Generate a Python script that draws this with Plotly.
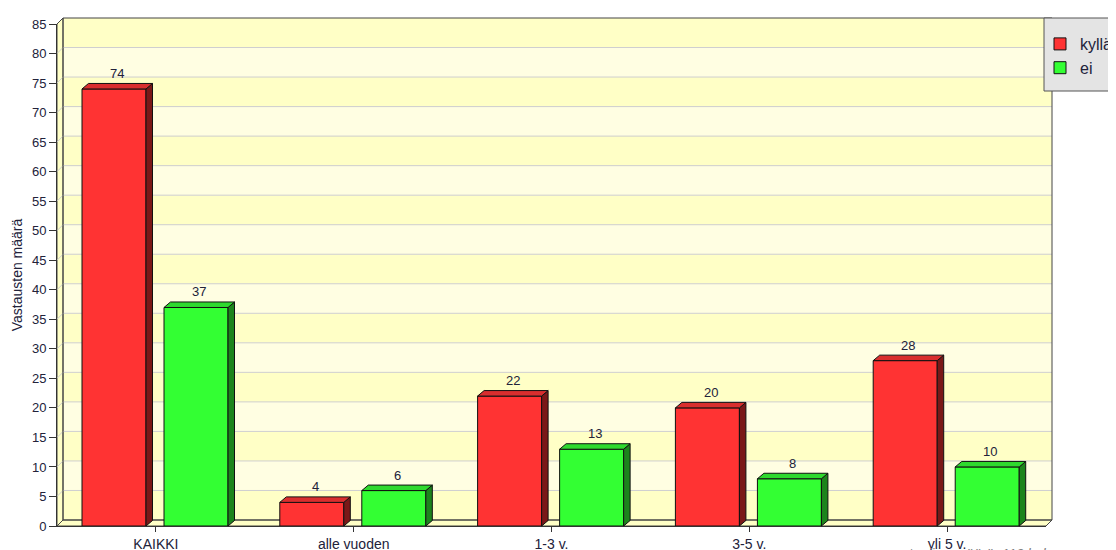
import plotly.graph_objects as go

# ---------------- data ----------------
categories = ["KAIKKI", "alle vuoden", "1-3 v.", "3-5 v.", "yli 5 v."]
kylla = [74, 4, 22, 20, 28]
ei = [37, 6, 13, 8, 10]
series_names = ["kyllä", "ei"]
y_ticks = list(range(0, 90, 5))
y_title = "Vastausten määrä"
footnote = "vastaajien määrä: 110 kpl"

# ---------------- layout geometry (page pixels) ----------------
PAGE_W, PAGE_H = 1116, 550
OFF = 8                      # default body margin of the html page
W, H = PAGE_W - OFF, PAGE_H - OFF
PL, PR, PT, PB = 57, 1046, 24, 526
ML, MR, MT, MB = PL - OFF, PAGE_W - PR, PT - OFF, PAGE_H - PB
XR = [-0.5, len(categories) - 0.5]
YR = [0, 85]
DX, DY = 6, 6          # wall depth (px)
BDX, BDY = 6.5, 5.5    # bar depth (px)
BAR_W = 0.3236
OFFSETS = [-0.3736, 0.041]
FONT = "Liberation Sans, Arial, sans-serif"
TXT = "#22223A"

FRONT = ["#FF3333", "#33FF33"]
TOP = ["#D92E2E", "#2ED92E"]
SIDE = ["#7A1818", "#1C841C"]


def px_x(x):
    return PL + (x - XR[0]) / (XR[1] - XR[0]) * (PR - PL)


def px_y(y):
    return PB - (y - YR[0]) / (YR[1] - YR[0]) * (PB - PT)


def pap_x(px):
    return (px - PL) / (PR - PL)


def pap_y(py):
    return (PB - py) / (PB - PT)


def path(points):
    return "M" + " L".join(f"{pap_x(a):.5f},{pap_y(b):.5f}" for a, b in points) + " Z"


shapes = []
# back wall bands
for i, (lo, hi) in enumerate(zip(y_ticks[:-1], y_ticks[1:])):
    shapes.append(dict(type="rect", xref="paper", yref="paper", layer="below",
                       x0=pap_x(PL + DX), x1=pap_x(PR + DX),
                       y0=pap_y(px_y(lo) - DY), y1=pap_y(px_y(hi) - DY),
                       fillcolor="#FFFFC6" if i % 2 == 0 else "#FFFEE2",
                       line=dict(width=0)))
# left wall
shapes.append(dict(type="path", xref="paper", yref="paper", layer="below",
                   path=path([(PL, PB), (PL, PT), (PL + DX, PT - DY), (PL + DX, PB - DY)]),
                   fillcolor="#FFFFC6", line=dict(color="#444444", width=1)))
# floor
shapes.append(dict(type="path", xref="paper", yref="paper", layer="below",
                   path=path([(PL, PB), (PR, PB), (PR + DX, PB - DY), (PL + DX, PB - DY)]),
                   fillcolor="#FFFFC6", line=dict(color="#444444", width=1)))
# gridlines
for v in y_ticks[1:-1]:
    yy = px_y(v)
    shapes.append(dict(type="line", xref="paper", yref="paper", layer="below",
                       x0=pap_x(PL + DX), x1=pap_x(PR + DX),
                       y0=pap_y(yy - DY), y1=pap_y(yy - DY),
                       line=dict(color="#CFCFCF", width=1)))
    shapes.append(dict(type="line", xref="paper", yref="paper", layer="below",
                       x0=pap_x(PL), x1=pap_x(PL + DX),
                       y0=pap_y(yy), y1=pap_y(yy - DY),
                       line=dict(color="#CFCFCF", width=1)))
# back wall outline
shapes.append(dict(type="rect", xref="paper", yref="paper", layer="below",
                   x0=pap_x(PL + DX), x1=pap_x(PR + DX),
                   y0=pap_y(PB - DY), y1=pap_y(PT - DY),
                   line=dict(color="#444444", width=1)))

fig = go.Figure()
annotations = []
for s, (name, vals) in enumerate(zip(series_names, [kylla, ei])):
    fig.add_trace(go.Bar(
        x=list(range(len(categories))), y=vals, name=name,
        width=BAR_W, offset=OFFSETS[s],
        marker=dict(color=FRONT[s], line=dict(color="#111111", width=1)),
        hoverinfo="x+y",
    ))
    for i, v in enumerate(vals):
        xl = px_x(i + OFFSETS[s])
        xr = px_x(i + OFFSETS[s] + BAR_W)
        yt = px_y(v)
        y0 = px_y(0)
        shapes.append(dict(type="path", xref="paper", yref="paper", layer="above",
                           path=path([(xr, y0), (xr + BDX, y0 - BDY), (xr + BDX, yt - BDY), (xr, yt)]),
                           fillcolor=SIDE[s], line=dict(color="#111111", width=1)))
        shapes.append(dict(type="path", xref="paper", yref="paper", layer="above",
                           path=path([(xl, yt), (xl + BDX, yt - BDY), (xr + BDX, yt - BDY), (xr, yt)]),
                           fillcolor=TOP[s], line=dict(color="#111111", width=1)))
        annotations.append(dict(x=i + OFFSETS[s] + BAR_W / 2, y=v, xref="x", yref="y",
                                text=str(v), showarrow=False, yanchor="bottom",
                                xshift=BDX / 2, yshift=6,
                                font=dict(family=FONT, size=13, color=TXT)))

# legend box
shapes.append(dict(type="rect", xref="paper", yref="paper", layer="above",
                   x0=pap_x(1044), x1=pap_x(1130), y0=pap_y(91), y1=pap_y(18),
                   fillcolor="#E4E4E4", line=dict(color="#555555", width=1)))

annotations.append(dict(x=pap_x(1048), y=pap_y(544), xref="paper", yref="paper",
                        xanchor="right", yanchor="top", showarrow=False, text=footnote,
                        font=dict(family=FONT, size=14, color="#808080", style="italic")))

fig.update_layout(
    width=W, height=H,
    margin=dict(l=ML, r=MR, t=MT, b=MB, autoexpand=False),
    paper_bgcolor="white", plot_bgcolor="rgba(0,0,0,0)",
    barmode="overlay",
    shapes=shapes, annotations=annotations,
    font=dict(family=FONT, size=13, color=TXT),
    showlegend=True,
    legend=dict(x=pap_x(1040), y=pap_y(27), xanchor="left", yanchor="top",
                bgcolor="rgba(0,0,0,0)", borderwidth=0, itemwidth=30,
                font=dict(family=FONT, size=16, color=TXT)),
    xaxis=dict(range=XR, tickvals=list(range(len(categories))), ticktext=categories,
               showline=True, linecolor="#333333", ticks="outside", ticklen=5,
               tickcolor="#333333", showgrid=False, zeroline=False, fixedrange=True,
               tickfont=dict(family=FONT, size=14, color=TXT)),
    yaxis=dict(range=YR, tickvals=y_ticks, showline=True, linecolor="#333333",
               ticks="outside", ticklen=7, tickcolor="#333333", showgrid=False,
               zeroline=False, fixedrange=True,
               tickfont=dict(family=FONT, size=13, color=TXT),
               title=dict(text=y_title, standoff=6,
                          font=dict(family=FONT, size=14, color=TXT))),
)

fig.write_html("out.html")
